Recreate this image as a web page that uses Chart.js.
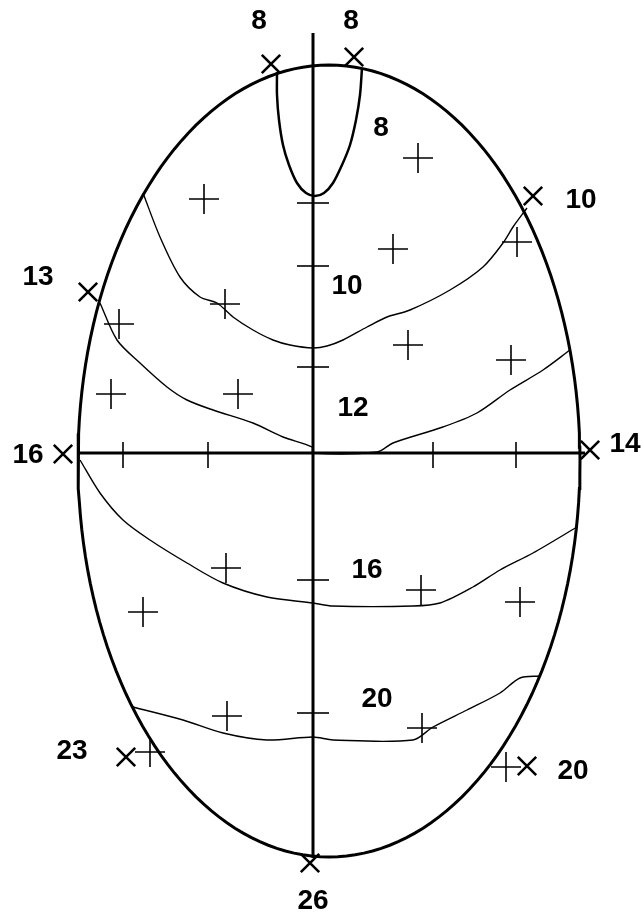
<!DOCTYPE html>
<html>
<head>
<meta charset="utf-8">
<script src="https://cdn.jsdelivr.net/npm/chart.js@4/dist/chart.umd.min.js"></script>
<style>
html,body{margin:0;padding:0;background:#fff;}
#wrap{width:641px;height:920px;}
</style>
</head>
<body>
<div id="wrap"><canvas id="c" width="641" height="920"></canvas></div>
<script>
// ---- data (x to the right, y upward, origin at the crossing of the two axes) ----
const ellipseCenter = [16, -8];
const ellipseRadii = [251, 396];

const axisVertical = [[0, 420], [0, -405]];
const axisHorizontal = [[-235, 0], [272, 0]];

const hTickX = [-190, -105, 120, 203];        // ticks on the horizontal axis
const vTickY = [250, 187, 86, -127, -260];    // ticks on the vertical axis

const plusX = [-109, 105, 80, 204, -88, -194, 95, 198, -202, -75, -87, -170, 108, 207, -86, 109, -163, 193];
const plusY = [254, 295, 204, 211, 149, 129, 108, 93, 59, 59, -115, -159, -137, -149, -263, -275, -299, -314];

const markX = [-42, 41, 220, -225, -250, 277, -187, 214, -3];
const markY = [389, 396, 257, 161, -1, 3, -304, -313, -410];
const markLabels = ['8', '8', '10', '13', '16', '14', '23', '20', '26'];
const markLabelX = [-54, 38, 268, -275, -285, 312, -241, 260, 0];
const markLabelY = [432, 432, 253, 176, -2, 9, -298, -318, -448];

const contourLabels = ['8', '10', '12', '16', '20'];
const contourLabelX = [68, 34, 40, 54, 64];
const contourLabelY = [325, 167, 45, -117, -246];

const contour8X = [-36, -36, -34, -30, -24, -16, -7, 2, 11, 20, 29, 37, 43, 47, 49];
const contour8Y = [381, 358, 333, 308, 288, 270, 260, 257, 260, 270, 288, 308, 333, 358, 385];

const contour10X = [-170, -153, -133, -113, -96, -80, -60, -40, -23, 0, 14, 30, 54, 74, 97, 137, 170, 190, 200, 214];
const contour10Y = [260, 216, 176, 156, 150, 136, 123, 113, 108, 105, 107, 113, 126, 136, 143, 163, 186, 210, 226, 245];

const contour12X = [-213, -196, -173, -146, -126, -100, -60, -30, -1, 0, 64, 80, 130, 164, 197, 230, 257];
const contour12Y = [150, 113, 90, 66, 53, 43, 30, 16, 6, 0, 1, 10, 26, 40, 63, 83, 103];

const contour16X = [-233, -213, -190, -163, -126, -90, -46, 0, 20, 100, 127, 160, 187, 220, 264];
const contour16Y = [-7, -40, -67, -87, -110, -130, -144, -150, -153, -153, -150, -134, -117, -100, -74];

const contour20X = [-180, -130, -90, -46, 0, 20, 100, 120, 154, 187, 207, 227];
const contour20Y = [-254, -267, -280, -287, -284, -287, -287, -274, -257, -240, -225, -223];

// ---- build datasets ----
const zip = (xs, ys) => xs.map((x, i) => ({x: x, y: ys[i]}));
const pairs = p => p.map(q => ({x: q[0], y: q[1]}));

const ellipsePts = [];
for (let i = 0; i <= 180; i++) {
  const t = i / 180 * 2 * Math.PI;
  ellipsePts.push({x: ellipseCenter[0] + ellipseRadii[0] * Math.cos(t), y: ellipseCenter[1] + ellipseRadii[1] * Math.sin(t)});
}

const lineDs = (data, width, tension) => ({
  type: 'line', data: data, borderColor: '#000', borderWidth: width,
  pointRadius: 0, fill: false, tension: tension || 0, showLine: true
});

const datasets = [
  lineDs(ellipsePts, 3, 0),
  lineDs(pairs(axisVertical), 3),
  lineDs(pairs(axisHorizontal), 3),
  lineDs(zip(contour8X, contour8Y), 2.5, 0.3),
  lineDs(zip(contour10X, contour10Y), 1.4, 0.3),
  lineDs(zip(contour12X, contour12Y), 1.4, 0.3),
  lineDs(zip(contour16X, contour16Y), 1.4, 0.3),
  lineDs(zip(contour20X, contour20Y), 1.4, 0.3),
  { type: 'scatter', data: hTickX.map(x => ({x: x, y: -2})), pointStyle: 'line', rotation: 90,
    pointRadius: 13, borderColor: '#000', borderWidth: 1.6, backgroundColor: '#000' },
  { type: 'scatter', data: vTickY.map(y => ({x: 0, y: y})), pointStyle: 'line', rotation: 0,
    pointRadius: 16, borderColor: '#000', borderWidth: 1.6, backgroundColor: '#000' },
  { type: 'scatter', data: zip(plusX, plusY), pointStyle: 'cross',
    pointRadius: 15, borderColor: '#000', borderWidth: 1.6, backgroundColor: '#000' },
  { type: 'scatter', data: zip(markX, markY), pointStyle: 'crossRot',
    pointRadius: 13, borderColor: '#000', borderWidth: 2.6, backgroundColor: '#000' }
];

const textPlugin = {
  id: 'texts',
  afterDatasetsDraw(chart) {
    const ctx = chart.ctx, xs = chart.scales.x, ys = chart.scales.y;
    ctx.save();
    ctx.fillStyle = '#000';
    ctx.font = 'bold 28px "Liberation Sans", Arial, sans-serif';
    ctx.textAlign = 'center';
    ctx.textBaseline = 'middle';
    markLabels.forEach((t, i) => ctx.fillText(t, xs.getPixelForValue(markLabelX[i]), ys.getPixelForValue(markLabelY[i])));
    contourLabels.forEach((t, i) => ctx.fillText(t, xs.getPixelForValue(contourLabelX[i]), ys.getPixelForValue(contourLabelY[i])));
    ctx.restore();
  }
};

new Chart(document.getElementById('c'), {
  type: 'scatter',
  data: { datasets: datasets },
  options: {
    responsive: false,
    animation: false,
    layout: { padding: 0, autoPadding: false },
    plugins: { legend: { display: false }, tooltip: { enabled: false } },
    scales: {
      x: { type: 'linear', min: -313, max: 328, display: false },
      y: { type: 'linear', min: -467, max: 453, display: false }
    }
  },
  plugins: [textPlugin]
});
</script>
</body>
</html>
